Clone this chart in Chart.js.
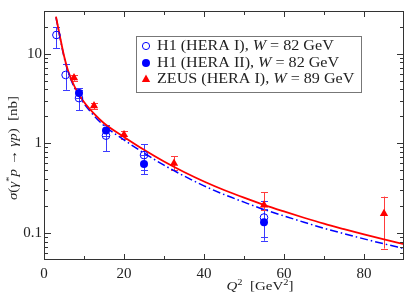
<!DOCTYPE html>
<html><head><meta charset="utf-8">
<script src="https://cdn.jsdelivr.net/npm/chart.js@4.4.1/dist/chart.umd.min.js"></script>
<style>html,body{margin:0;padding:0;background:#fff}canvas{display:block}</style>
</head><body>
<canvas id="c" width="409" height="297"></canvas>
<script>
// ---- data ----
const curveQ2   = [3,3.5,4,5,6,7,8,10,12.5,15,20,25,30,35,40,45,50,55,60,65,70,75,80,85,90];
const redCurve  = [26,20,15.5,9.5,6.5,5.0,4.0,2.9,2.15,1.68,1.18,0.848,0.628,0.48,0.376,0.302,0.248,0.206,0.174,0.148,0.127,0.1105,0.0966,0.085,0.0753];
const blueCurve = [25.5,19.6,15.2,9.25,6.3,4.82,3.84,2.78,2.04,1.58,1.095,0.78,0.572,0.433,0.336,0.269,0.221,0.183,0.155,0.132,0.113,0.0983,0.086,0.0757,0.067];

const h1IQ2  = [3.1, 5.4, 8.75, 15.5, 25, 55];
const h1IVal = [16.2, 5.8, 3.2, 1.22, 0.74, 0.149];
const h1ILo  = [11.5, 3.95, 2.35, 0.82, 0.5, 0.09];
const h1IHi  = [19.9, 7.6, 3.95, 1.5, 0.98, 0.226];

const h1IIQ2  = [8.75, 15.5, 25, 55];
const h1IIVal = [3.65, 1.39, 0.59, 0.132];
const h1IILo  = [3.2, 1.2, 0.45, 0.082];
const h1IIHi  = [4.1, 1.6, 0.75, 0.185];

const zeusQ2  = [7.5, 12.5, 20, 32.5, 55, 85];
const zeusVal = [5.4, 2.62, 1.25, 0.6, 0.205, 0.165];
const zeusLo  = [5.0, 2.4, 1.13, 0.5, 0.18, 0.067];
const zeusHi  = [5.85, 2.85, 1.38, 0.72, 0.285, 0.255];

const xTicks = [0,20,40,60,80];
const xTickLabels = ['0','20','40','60','80'];
const yTicks = [0.1,1,10];
const yTickLabels = ['0.1','1','10'];

const legendLabels = [
  [['H1 (HERA I), ','r'],['W','i'],[' = 82 GeV','r']],
  [['H1 (HERA II), ','r'],['W','i'],[' = 82 GeV','r']],
  [['ZEUS (HERA I), ','r'],['W','i'],[' = 89 GeV','r']]
];

const BLUE = '#0000ff', BLUE_E = '#3c3cff', RED = '#ff0000', RED_E = '#ff3c3c';
const FONT = 'Liberation Serif';
const TXT = '#222';

const pts = (xs, ys) => xs.map((x,i)=>({x, y: ys[i]}));

function segFont(st, size){
  const s = (st==='sup'||st==='isup') ? size*0.7 : size;
  const it = (st==='i'||st==='isup') ? 'italic ' : '';
  return it + s + 'px "' + FONT + '"';
}
function richWidth(ctx, segs, size){
  let w = 0;
  for (const [t,st] of segs){ ctx.font = segFont(st,size); w += ctx.measureText(t).width; }
  return w;
}
function drawRich(ctx, segs, x, y, size, sx, align){
  ctx.save();
  ctx.textBaseline = 'middle';
  ctx.textAlign = 'left';
  ctx.fillStyle = TXT;
  const w = richWidth(ctx, segs, size);
  ctx.translate(x, y);
  ctx.scale(sx, 1);
  let cx = align==='center' ? -w/2 : 0;
  for (const [t,st] of segs){
    ctx.font = segFont(st,size);
    const dy = (st==='sup'||st==='isup') ? -size*0.33 : 0;
    ctx.fillText(t, cx, dy);
    cx += ctx.measureText(t).width;
  }
  ctx.restore();
}

function errBars(ctx, scX, scY, xsv, lo, hi, color){
  ctx.save();
  ctx.strokeStyle = color; ctx.lineWidth = 1;
  for (let i=0;i<xsv.length;i++){
    const px = Math.round(scX.getPixelForValue(xsv[i]))+0.5;
    const y1 = scY.getPixelForValue(lo[i]), y2 = scY.getPixelForValue(hi[i]);
    ctx.beginPath();
    ctx.moveTo(px, y1); ctx.lineTo(px, y2);
    ctx.moveTo(px-3.5, Math.round(y1)+0.5); ctx.lineTo(px+3.5, Math.round(y1)+0.5);
    ctx.moveTo(px-3.5, Math.round(y2)+0.5); ctx.lineTo(px+3.5, Math.round(y2)+0.5);
    ctx.stroke();
  }
  ctx.restore();
}

const deco = {
  id: 'deco',
  beforeDatasetsDraw(chart){
    const {ctx, chartArea:a, scales:{x, y}} = chart;
    ctx.save();
    ctx.beginPath(); ctx.rect(a.left, a.top, a.right-a.left, a.bottom-a.top); ctx.clip();
    errBars(ctx, x, y, h1IQ2, h1ILo, h1IHi, BLUE_E);
    errBars(ctx, x, y, h1IIQ2, h1IILo, h1IIHi, BLUE_E);
    errBars(ctx, x, y, zeusQ2, zeusLo, zeusHi, RED_E);
    ctx.restore();
  },
  afterDraw(chart){
    const {ctx, chartArea:a, scales:{x, y}} = chart;
    ctx.save();
    ctx.strokeStyle = '#333'; ctx.lineWidth = 1;
    ctx.strokeRect(Math.round(a.left)+0.5, Math.round(a.top)+0.5, Math.round(a.right-a.left)-1, Math.round(a.bottom-a.top)-1);
    ctx.beginPath();
    for (let v=10; v<90; v+=10){
      const px = Math.round(x.getPixelForValue(v))+0.5;
      const len = (v%20===0) ? 6 : 4;
      ctx.moveTo(px, a.bottom); ctx.lineTo(px, a.bottom-len);
      ctx.moveTo(px, a.top); ctx.lineTo(px, a.top+len);
    }
    for (const d of [0.01,0.1,1,10]){
      for (let m=1;m<=9;m++){
        const v = m*d;
        if (v<=0.05 || v>=30) continue;
        const py = Math.round(y.getPixelForValue(v))+0.5;
        const len = (m===1) ? 7 : 4;
        ctx.moveTo(a.left, py); ctx.lineTo(a.left+len, py);
        ctx.moveTo(a.right, py); ctx.lineTo(a.right-len, py);
      }
    }
    ctx.stroke();

    // legend
    ctx.strokeStyle = '#777'; ctx.lineWidth = 1;
    ctx.strokeRect(136.5, 36.5, 225, 56);
    const rows = [46, 63, 79];
    ctx.strokeStyle = BLUE;
    ctx.beginPath(); ctx.arc(146, rows[0], 3.6, 0, Math.PI*2); ctx.stroke();
    ctx.fillStyle = BLUE;
    ctx.beginPath(); ctx.arc(146, rows[1], 4, 0, Math.PI*2); ctx.fill();
    ctx.fillStyle = RED;
    ctx.beginPath(); ctx.moveTo(146, rows[2]-4.5); ctx.lineTo(150.2, rows[2]+3); ctx.lineTo(141.8, rows[2]+3); ctx.closePath(); ctx.fill();
    for (let i=0;i<3;i++) drawRich(ctx, legendLabels[i], 157, rows[i], 14, 1.15, 'left');

    // axis titles
    drawRich(ctx, [['Q','i'],['2','sup'],['  [GeV','r'],['2','sup'],[']','r']], 260, 287, 13, 1.15, 'center');
    ctx.save();
    ctx.translate(14, 148); ctx.rotate(-Math.PI/2);
    drawRich(ctx, [['σ','i'],['(','r'],['γ','i'],['*','sup'],['p','i'],[' → ','r'],['γp','i'],[')  [nb]','r']], 0, 0, 13, 1.15, 'center');
    ctx.restore();
    ctx.restore();
  }
};

new Chart(document.getElementById('c'), {
  type: 'scatter',
  data: { datasets: [
    { label:'ZEUS (HERA I)', data: pts(zeusQ2, zeusVal), pointStyle:'triangle', pointRadius:4.8, backgroundColor:RED, borderColor:RED, borderWidth:0 },
    { label:'H1 (HERA II)', data: pts(h1IIQ2, h1IIVal), pointStyle:'circle', pointRadius:4, backgroundColor:BLUE, borderColor:BLUE, borderWidth:0 },
    { label:'H1 (HERA I)', data: pts(h1IQ2, h1IVal), pointStyle:'circle', pointRadius:3.8, backgroundColor:'rgba(0,0,0,0)', borderColor:BLUE, borderWidth:1 },
    { label:'red', data: pts(curveQ2, redCurve), showLine:true, pointRadius:0, borderColor:RED, borderWidth:1.8, cubicInterpolationMode:'monotone', fill:false },
    { label:'blue', data: pts(curveQ2, blueCurve), showLine:true, pointRadius:0, borderColor:BLUE, borderWidth:1.5, borderDash:[8,3,1.5,3], cubicInterpolationMode:'monotone', fill:false }
  ]},
  options: {
    responsive:false, animation:false, devicePixelRatio:1,
    layout:{padding:{top:9,right:3,left:0,bottom:0}},
    plugins:{legend:{display:false}, tooltip:{enabled:false}},
    scales:{
      x:{ type:'linear', min:0, max:90,
          afterBuildTicks(s){ s.ticks = xTicks.map(v=>({value:v})); },
          afterFit(s){ s.height = 37; },
          grid:{display:false, drawTicks:false}, border:{display:false},
          ticks:{ padding:5, autoSkip:false, maxRotation:0, color:TXT, font:{family:FONT, size:15},
                  callback:(v,i)=>xTickLabels[i] } },
      y:{ type:'logarithmic', min:0.05, max:30,
          afterBuildTicks(s){ s.ticks = yTicks.map(v=>({value:v})); },
          afterFit(s){ s.width = 44; },
          grid:{display:false, drawTicks:false}, border:{display:false},
          ticks:{ padding:2, autoSkip:false, color:TXT, font:{family:FONT, size:15},
                  callback:(v,i)=>yTickLabels[i] } }
    }
  },
  plugins:[deco]
});
</script>
</body></html>
